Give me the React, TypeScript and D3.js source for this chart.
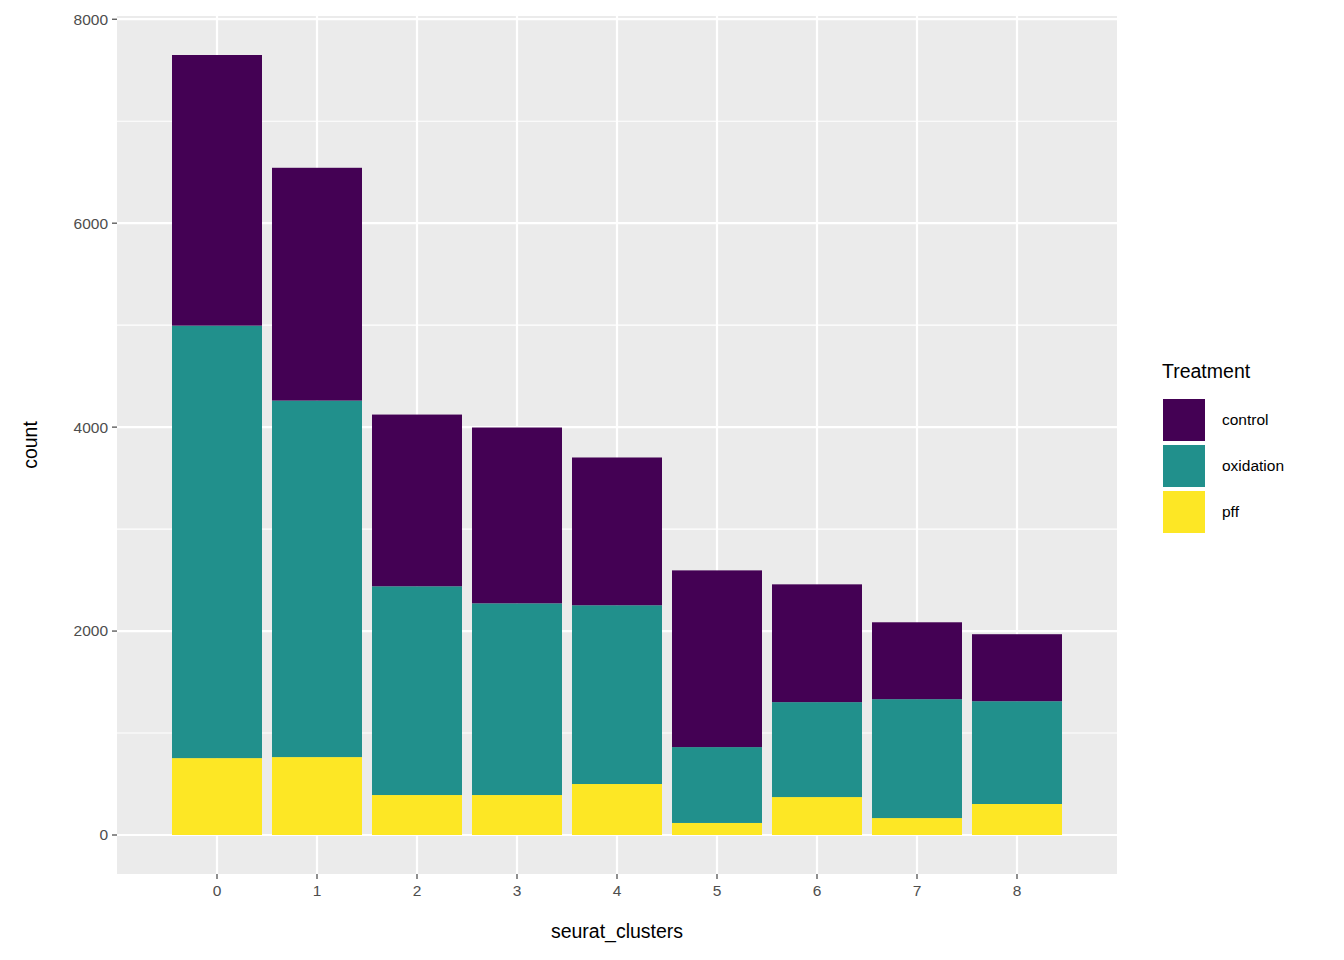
import React from "react";
import * as d3 from "d3";

const clusters = ["0","1","2","3","4","5","6","7","8"];
const pff = [754, 764, 392, 392, 500, 118, 372, 166, 304];
const oxidation = [4241, 3496, 2047, 1880, 1753, 744, 931, 1166, 1008];
const control = [2654, 2283, 1684, 1724, 1449, 1733, 1155, 754, 657];
const series = ["pff", "oxidation", "control"];
const legendOrder = ["control", "oxidation", "pff"];
const colors: Record<string, string> = { control: "#440154", oxidation: "#21908C", pff: "#FDE725" };
const yTicks = [0, 2000, 4000, 6000, 8000];

export default function App() {
  const W = 1344, H = 960;
  const L = 117, R = 1117, T = 16, B = 874;
  const rows = clusters.map((c, i) => ({ c, pff: pff[i], oxidation: oxidation[i], control: control[i] }));
  const stack = d3.stack<any>().keys(series)(rows);
  const maxV = d3.max(rows, r => r.pff + r.oxidation + r.control)!;
  const y = d3.scaleLinear().domain([-maxV * 0.05, maxV * 1.05]).range([B, T]);
  const x = d3.scaleBand().domain(clusters).range([L, R]).paddingInner(0.1).paddingOuter(0.55);
  const minor = yTicks.slice(0, -1).map(v => v + 1000);
  const font = "Liberation Sans, Arial, sans-serif";
  return (
    <svg width={W} height={H} style={{ position: "absolute", left: 0, top: 0 }} fontFamily={font}>
      <rect x={0} y={0} width={W} height={H} fill="#fff" />
      <rect x={L} y={T} width={R - L} height={B - T} fill="#EBEBEB" />
      {minor.map(v => <line key={"m" + v} x1={L} x2={R} y1={y(v)} y2={y(v)} stroke="#fff" strokeWidth={1.1} />)}
      {yTicks.map(v => <line key={"g" + v} x1={L} x2={R} y1={y(v)} y2={y(v)} stroke="#fff" strokeWidth={2.2} />)}
      {clusters.map(c => { const cx = x(c)! + x.bandwidth() / 2; return <line key={"v" + c} x1={cx} x2={cx} y1={T} y2={B} stroke="#fff" strokeWidth={2.2} />; })}
      {stack.map(s => s.map((d, i) => (
        <rect key={s.key + i} x={x(clusters[i])} width={x.bandwidth()} y={y(d[1])} height={y(d[0]) - y(d[1])} fill={colors[s.key]} />
      )))}
      {yTicks.map(v => (
        <g key={"t" + v}>
          <line x1={L - 5} x2={L} y1={y(v)} y2={y(v)} stroke="#333" strokeWidth={1.1} />
          <text x={L - 9} y={y(v)} dy="0.35em" textAnchor="end" fontSize={15.5} fill="#4D4D4D">{v}</text>
        </g>
      ))}
      {clusters.map(c => { const cx = x(c)! + x.bandwidth() / 2; return (
        <g key={"xt" + c}>
          <line x1={cx} x2={cx} y1={B} y2={B + 5} stroke="#333" strokeWidth={1.1} />
          <text x={cx} y={B + 22} textAnchor="middle" fontSize={15.5} fill="#4D4D4D">{c}</text>
        </g>); })}
      <text x={(L + R) / 2} y={938} textAnchor="middle" fontSize={19.5} fill="#000">seurat_clusters</text>
      <text transform={`translate(37,${(T + B) / 2}) rotate(-90)`} textAnchor="middle" fontSize={19.5} fill="#000">count</text>
      <text x={1162} y={378} fontSize={19.5} fill="#000">Treatment</text>
      {legendOrder.map((k, i) => (
        <g key={k}>
          <rect x={1163} y={399 + i * 46} width={42} height={42} fill={colors[k]} />
          <text x={1222} y={420 + i * 46} dy="0.35em" fontSize={15.5} fill="#000">{k}</text>
        </g>
      ))}
    </svg>
  );
}
